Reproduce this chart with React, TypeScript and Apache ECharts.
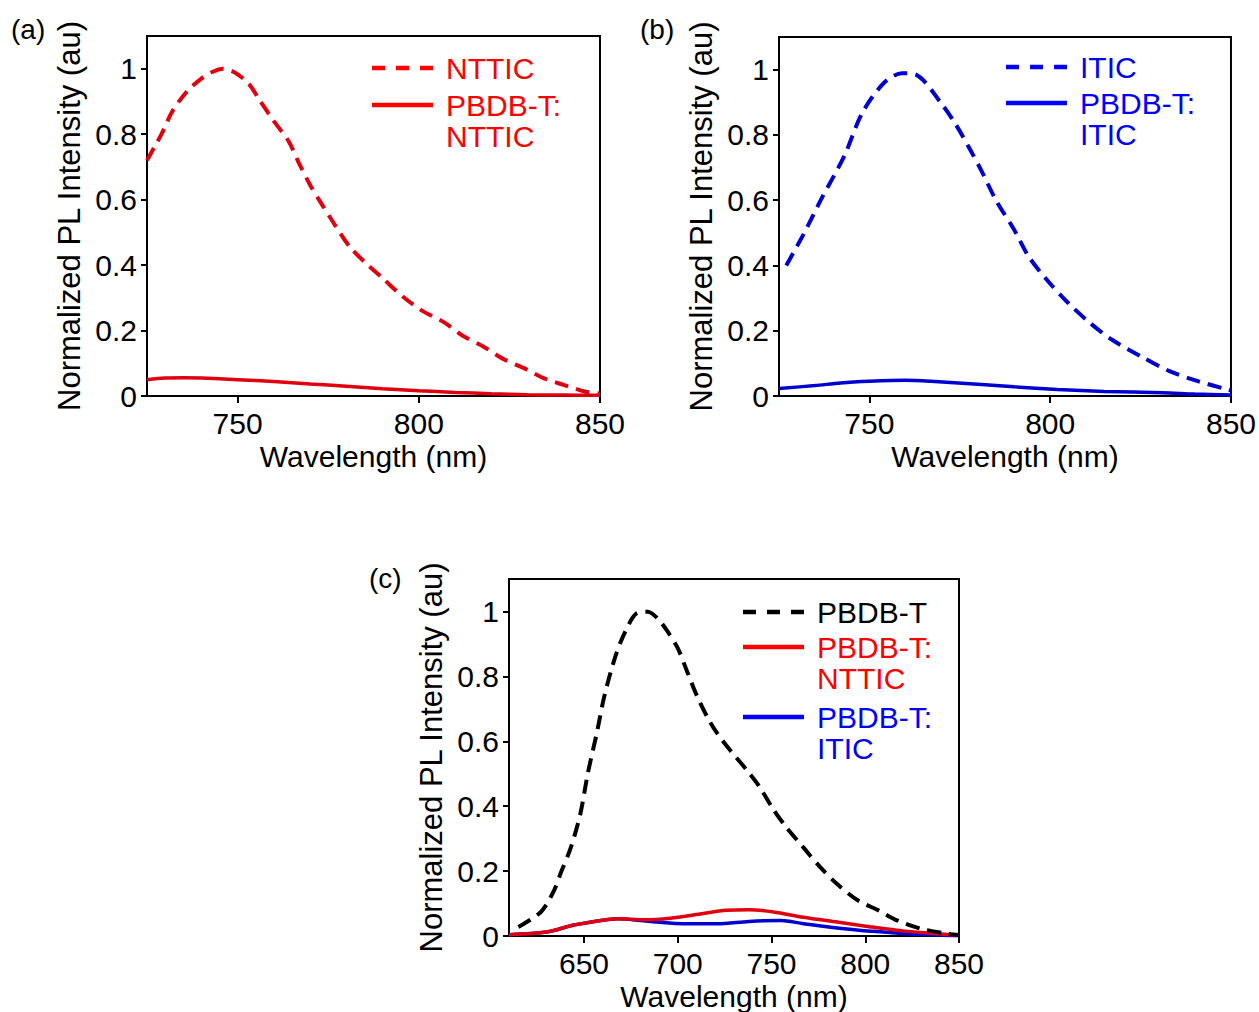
import React, { useEffect, useRef } from "react";
import * as echarts from "echarts";

// ---- Panel (a): NTTIC neat film vs PBDB-T:NTTIC blend ----
const NTTIC_WL = [725, 727, 729, 732, 736, 740, 743, 746, 749, 753, 756, 760, 764, 767, 770, 773, 777, 781, 785, 790, 796, 801, 807, 812, 818, 823, 829, 835, 840, 846, 850];
const NTTIC_PL = [0.72, 0.76, 0.8, 0.87, 0.93, 0.97, 0.99, 1.0, 0.99, 0.955, 0.905, 0.84, 0.78, 0.71, 0.645, 0.59, 0.52, 0.455, 0.41, 0.36, 0.3, 0.26, 0.225, 0.185, 0.15, 0.115, 0.085, 0.052, 0.034, 0.013, 0.008];
const BLEND_N_WL_A = [725, 730, 735, 740, 750, 760, 770, 780, 790, 800, 810, 820, 830, 840, 850];
const BLEND_N_PL_A = [0.05, 0.055, 0.056, 0.055, 0.05, 0.044, 0.037, 0.03, 0.022, 0.016, 0.011, 0.007, 0.004, 0.003, 0.002];

// ---- Panel (b): ITIC neat film vs PBDB-T:ITIC blend ----
const ITIC_WL = [727, 732, 737, 743, 748, 754, 759, 763, 770, 774, 778, 781, 785, 790, 794, 799, 805, 811, 817, 825, 833, 841, 849, 850];
const ITIC_PL = [0.4, 0.5, 0.61, 0.734, 0.867, 0.959, 0.989, 0.984, 0.895, 0.83, 0.752, 0.69, 0.6, 0.51, 0.428, 0.357, 0.285, 0.224, 0.173, 0.122, 0.076, 0.045, 0.02, 0.017];
const BLEND_I_WL_B = [725, 735, 742, 750, 760, 767, 780, 790, 802, 815, 831, 840, 850];
const BLEND_I_PL_B = [0.023, 0.032, 0.04, 0.045, 0.048, 0.045, 0.036, 0.028, 0.02, 0.014, 0.01, 0.006, 0.003];

// ---- Panel (c): PBDB-T neat film and both blends ----
const PBDBT_WL = [615, 627, 634, 638, 643, 648, 652, 657, 661, 667, 672, 678, 684, 689, 694, 700, 705, 710, 716, 721, 728, 737, 743, 751, 758, 767, 776, 785, 796, 807, 817, 830, 844, 850];
const PBDBT_PL = [0.028, 0.074, 0.14, 0.2, 0.273, 0.375, 0.5, 0.63, 0.743, 0.866, 0.938, 0.994, 0.999, 0.98, 0.943, 0.887, 0.815, 0.743, 0.672, 0.625, 0.572, 0.51, 0.465, 0.39, 0.334, 0.273, 0.212, 0.16, 0.11, 0.079, 0.048, 0.022, 0.007, 0.003];
const BLEND_N_WL_C = [610, 630, 644, 659, 668, 682, 696, 712, 726, 738, 751, 767, 785, 803, 821, 839, 850];
const BLEND_N_PL_C = [0.004, 0.012, 0.033, 0.048, 0.053, 0.05, 0.055, 0.068, 0.079, 0.081, 0.074, 0.058, 0.043, 0.028, 0.015, 0.007, 0.002];
const BLEND_I_WL_C = [610, 630, 644, 659, 668, 680, 689, 703, 721, 738, 755, 767, 785, 803, 821, 850];
const BLEND_I_PL_C = [0.004, 0.012, 0.033, 0.048, 0.053, 0.048, 0.043, 0.038, 0.038, 0.045, 0.048, 0.038, 0.025, 0.015, 0.007, 0.001];

const X_TICKS_AB = [750, 800, 850];
const X_TICKS_C = [650, 700, 750, 800, 850];
const Y_TICKS = [0, 0.2, 0.4, 0.6, 0.8, 1];

const FONT = "'Liberation Sans', Arial, Helvetica, sans-serif";
const RED = "#e1000f";
const RED_TEXT = "#ff0000";
const BLUE = "#0000d0";
const BLUE_TEXT = "#0000ff";
const BLACK = "#000000";

const pairs = (xs: number[], ys: number[]) => xs.map((x, i) => [x, ys[i]]);

function xAxisFor(gridIndex: number, min: number, ticks: number[]) {
  return {
    type: "value",
    gridIndex,
    min,
    max: 850,
    name: "Wavelength (nm)",
    nameLocation: "middle",
    nameGap: 45,
    nameTextStyle: { color: BLACK, fontSize: 30, fontFamily: FONT },
    axisLine: { show: true, onZero: false, lineStyle: { color: BLACK, width: 2 } },
    axisTick: { show: true, inside: false, length: 7, customValues: ticks, lineStyle: { color: BLACK, width: 2 } },
    axisLabel: { customValues: ticks, color: BLACK, fontSize: 30, fontFamily: FONT, margin: 12 },
    splitLine: { show: false },
  };
}

function yAxisFor(gridIndex: number) {
  return {
    type: "value",
    gridIndex,
    min: 0,
    max: 1.1,
    name: "Normalized PL Intensity (au)",
    nameLocation: "middle",
    nameGap: 62,
    nameTextStyle: { color: BLACK, fontSize: 31, fontFamily: FONT },
    axisLine: { show: true, onZero: false, lineStyle: { color: BLACK, width: 2 } },
    axisTick: { show: true, inside: false, length: 6, customValues: Y_TICKS, lineStyle: { color: BLACK, width: 2 } },
    axisLabel: {
      customValues: Y_TICKS,
      color: BLACK,
      fontSize: 30,
      fontFamily: FONT,
      margin: 10,
      formatter: (v: number) => String(Math.round(v * 10) / 10),
    },
    splitLine: { show: false },
  };
}

function line(idx: number, data: number[][], color: string, dashed: boolean) {
  return {
    type: "line",
    xAxisIndex: idx,
    yAxisIndex: idx,
    data,
    showSymbol: false,
    smooth: 0.3,
    silent: true,
    lineStyle: { color, width: dashed ? 4 : 3.5, type: dashed ? [14, 8] : "solid", cap: "butt" },
  };
}

// Legend rows drawn as graphic elements: a line sample plus one or two text lines
function legendEntry(x: number, y: number, stroke: string, textColor: string, dashed: boolean, lines: string[]) {
  const els: any[] = [
    {
      type: "line",
      shape: { x1: x, y1: y, x2: x + 61, y2: y },
      style: { stroke, lineWidth: 4.5, lineDash: dashed ? [13, 11] : null },
    },
  ];
  lines.forEach((t, i) => {
    els.push({
      type: "text",
      style: {
        text: t,
        x: x + 74,
        y: y + i * 31,
        fill: textColor,
        fontSize: 30,
        fontFamily: FONT,
        verticalAlign: "middle",
        align: "left",
      },
    });
  });
  return els;
}

function panelLabel(text: string, x: number, y: number) {
  return {
    type: "text",
    style: { text, x, y, fill: BLACK, fontSize: 28, fontFamily: FONT, verticalAlign: "middle", align: "left" },
  };
}

export default function App() {
  const ref = useRef<HTMLDivElement>(null);

  useEffect(() => {
    if (!ref.current) return;
    const chart = echarts.init(ref.current, null, { renderer: "svg" });
    const gridStyle = { show: true, borderColor: BLACK, borderWidth: 2, containLabel: false };
    chart.setOption({
      animation: false,
      backgroundColor: "#ffffff",
      grid: [
        { ...gridStyle, left: 147, top: 36, width: 453, height: 360 },
        { ...gridStyle, left: 779, top: 37, width: 452, height: 359 },
        { ...gridStyle, left: 509, top: 579, width: 450, height: 360 },
      ],
      xAxis: [xAxisFor(0, 725, X_TICKS_AB), xAxisFor(1, 725, X_TICKS_AB), xAxisFor(2, 610, X_TICKS_C)],
      yAxis: [yAxisFor(0), yAxisFor(1), yAxisFor(2)],
      series: [
        line(0, pairs(BLEND_N_WL_A, BLEND_N_PL_A), RED, false),
        line(0, pairs(NTTIC_WL, NTTIC_PL), RED, true),
        line(1, pairs(BLEND_I_WL_B, BLEND_I_PL_B), BLUE, false),
        line(1, pairs(ITIC_WL, ITIC_PL), BLUE, true),
        line(2, pairs(BLEND_I_WL_C, BLEND_I_PL_C), BLUE, false),
        line(2, pairs(BLEND_N_WL_C, BLEND_N_PL_C), RED, false),
        line(2, pairs(PBDBT_WL, PBDBT_PL), BLACK, true),
      ],
      graphic: [
        panelLabel("(a)", 11, 29),
        panelLabel("(b)", 640, 29),
        panelLabel("(c)", 369, 578),
        ...legendEntry(372, 68, RED_TEXT, RED_TEXT, true, ["NTTIC"]),
        ...legendEntry(372, 105, RED_TEXT, RED_TEXT, false, ["PBDB-T:", "NTTIC"]),
        ...legendEntry(1006, 67, BLUE_TEXT, BLUE_TEXT, true, ["ITIC"]),
        ...legendEntry(1006, 103, BLUE_TEXT, BLUE_TEXT, false, ["PBDB-T:", "ITIC"]),
        ...legendEntry(743, 612, BLACK, BLACK, true, ["PBDB-T"]),
        ...legendEntry(743, 647, RED_TEXT, RED_TEXT, false, ["PBDB-T:", "NTTIC"]),
        ...legendEntry(743, 717, BLUE_TEXT, BLUE_TEXT, false, ["PBDB-T:", "ITIC"]),
      ],
    });
    return () => chart.dispose();
  }, []);

  return (
    <div
      ref={ref}
      style={{ position: "absolute", left: 0, top: 0, width: 1259, height: 1012, background: "#fff" }}
    />
  );
}
